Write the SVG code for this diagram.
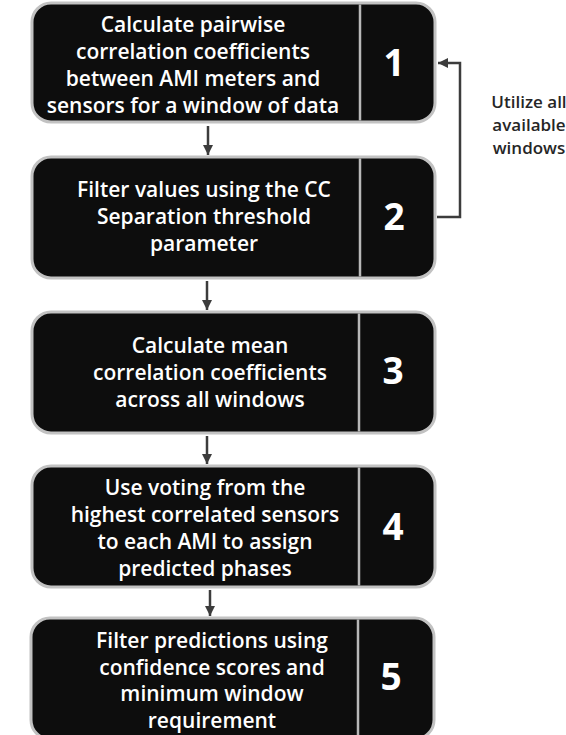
<svg xmlns="http://www.w3.org/2000/svg" width="566" height="735" viewBox="0 0 566 735">
  <defs>
    <marker id="head" viewBox="0 0 10 10" refX="10" refY="5" markerWidth="10" markerHeight="10" orient="auto" markerUnits="userSpaceOnUse">
      <path d="M0,0 L10,5 L0,10 z" fill="#3c3c3c"/>
    </marker>
    <style>
      .box { fill: #0d0d0d; stroke: #c2c2c2; stroke-width: 3; }
      .div { stroke: #b8b8b8; stroke-width: 2.5; }
      .txt { fill: #ffffff; font-family: "Open Sans", "DejaVu Sans", sans-serif; font-weight: 600; font-size: 21px; text-anchor: middle; }
      .num { fill: #ffffff; font-family: "Open Sans", "DejaVu Sans", sans-serif; font-weight: 700; font-size: 37px; text-anchor: middle; }
      .lbl { fill: #262626; font-family: "Open Sans", "DejaVu Sans", sans-serif; font-weight: 600; font-size: 17px; text-anchor: middle; }
      .conn { fill: none; stroke: #3c3c3c; stroke-width: 2.5; marker-end: url(#head); }
    </style>
  </defs>

  <rect width="566" height="735" fill="#ffffff"/>

  <g id="connectors">
    <path class="conn" d="M208,126 V155"/>
    <path class="conn" d="M207,281 V310"/>
    <path class="conn" d="M207,436 V464"/>
    <path class="conn" d="M210,590 V616"/>
    <path class="conn" d="M437,217 H460 V63 H438"/>
  </g>

  <g id="step1">
    <rect class="box" x="32" y="3" width="403" height="119" rx="19"/>
    <line class="div" x1="360" y1="4.5" x2="360" y2="120.5"/>
    <text class="txt" x="193" y="32">Calculate pairwise</text>
    <text class="txt" x="193" y="59">correlation coefficients</text>
    <text class="txt" x="193" y="86">between AMI meters and</text>
    <text class="txt" x="193" y="113">sensors for a window of data</text>
    <text class="num" x="394" y="76">1</text>
  </g>

  <g id="step2">
    <rect class="box" x="32" y="157" width="403" height="121" rx="19"/>
    <line class="div" x1="360" y1="158.5" x2="360" y2="276.5"/>
    <text class="txt" x="204" y="197">Filter values using the CC</text>
    <text class="txt" x="204" y="224">Separation threshold</text>
    <text class="txt" x="204" y="251">parameter</text>
    <text class="num" x="394" y="230">2</text>
  </g>

  <g id="step3">
    <rect class="box" x="32" y="312" width="403" height="121" rx="19"/>
    <line class="div" x1="359" y1="313.5" x2="359" y2="431.5"/>
    <text class="txt" x="210" y="353">Calculate mean</text>
    <text class="txt" x="210" y="380">correlation coefficients</text>
    <text class="txt" x="210" y="407">across all windows</text>
    <text class="num" x="393" y="384">3</text>
  </g>

  <g id="step4">
    <rect class="box" x="32" y="466" width="403" height="121" rx="19"/>
    <line class="div" x1="359" y1="467.5" x2="359" y2="585.5"/>
    <text class="txt" x="205" y="495">Use voting from the</text>
    <text class="txt" x="205" y="522">highest correlated sensors</text>
    <text class="txt" x="205" y="549">to each AMI to assign</text>
    <text class="txt" x="205" y="576">predicted phases</text>
    <text class="num" x="393" y="540">4</text>
  </g>

  <g id="step5">
    <rect class="box" x="31" y="618" width="403" height="121" rx="19"/>
    <line class="div" x1="358" y1="619.5" x2="358" y2="737"/>
    <text class="txt" x="212" y="648">Filter predictions using</text>
    <text class="txt" x="212" y="675">confidence scores and</text>
    <text class="txt" x="212" y="701">minimum window</text>
    <text class="txt" x="212" y="728">requirement</text>
    <text class="num" x="391" y="690">5</text>
  </g>

  <g id="loop-label">
    <text class="lbl" x="529" y="108">Utilize all</text>
    <text class="lbl" x="529" y="131">available</text>
    <text class="lbl" x="529" y="154">windows</text>
  </g>
</svg>
